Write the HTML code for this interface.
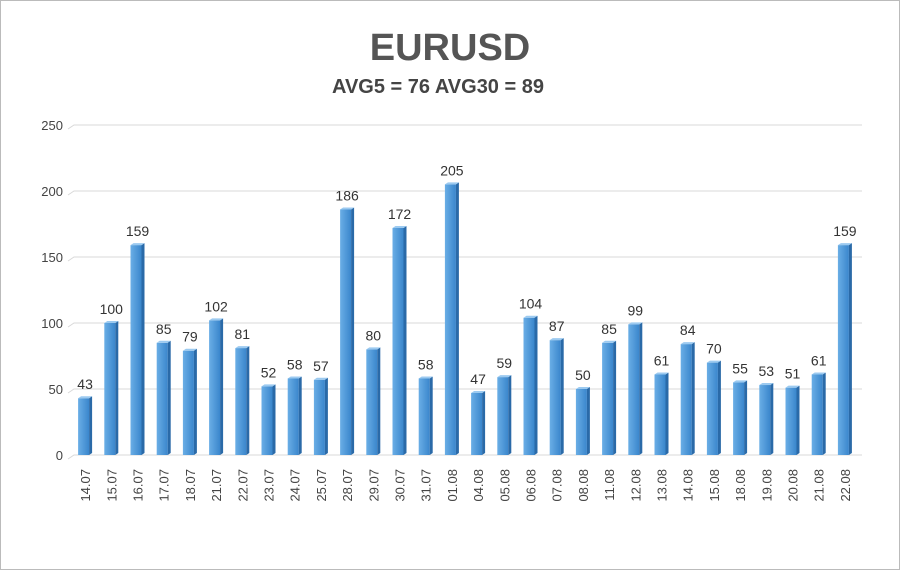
<!DOCTYPE html>
<html><head><meta charset="utf-8"><style>
body{margin:0;background:#fff;}
svg{display:block;font-family:"Liberation Sans",sans-serif;}
</style></head><body>
<svg id="c" width="900" height="570">
<defs><linearGradient id="g" x1="0" x2="1"><stop offset="0" stop-color="#6aaee6"/><stop offset="1" stop-color="#3a86cc"/></linearGradient></defs>
<rect x="0.5" y="0.5" width="899" height="569" fill="#fff" stroke="#bbb"/>
<text x="450" y="60" text-anchor="middle" font-size="38" font-weight="bold" fill="#555">EURUSD</text>
<text x="438" y="93" text-anchor="middle" font-size="20" font-weight="bold" fill="#444">AVG5 = 76 AVG30 = 89</text>
<g id="grid"></g><g id="bars"></g><g id="labels"></g>
</svg>
<script>
const categories=["14.07","15.07","16.07","17.07","18.07","21.07","22.07","23.07","24.07","25.07","28.07","29.07","30.07","31.07","01.08","04.08","05.08","06.08","07.08","08.08","11.08","12.08","13.08","14.08","15.08","18.08","19.08","20.08","21.08","22.08"];
const values=[43,100,159,85,79,102,81,52,58,57,186,80,172,58,205,47,59,104,87,50,85,99,61,84,70,55,53,51,61,159];
const ticks=[0,50,100,150,200,250];
const NS="http://www.w3.org/2000/svg";
const x0=72,step=26.2,yBase=455,yScale=330/250;
const y=v=>yBase-v*yScale;
const xc=i=>x0+step*(i+0.5);
function mk(t,a,p){const e=document.createElementNS(NS,t);for(const k in a)e.setAttribute(k,a[k]);p.appendChild(e);return e;}
const grid=document.getElementById('grid'),bars=document.getElementById('bars'),labels=document.getElementById('labels');
ticks.forEach(t=>{
 const l=mk('polyline',{points:`68,${y(t)+4} 74,${y(t)} 862,${y(t)}`,fill:'none',stroke:'#d9d9d9','stroke-width':1},grid);
 
 
 const tx=mk('text',{x:63,y:y(t)+5,'text-anchor':'end','font-size':13,fill:'#444'},grid);
 tx.textContent=t;
 
 
});
values.forEach((v,i)=>{
 const cx=xc(i),w=11;
 const g=mk('g',{},bars);
 
 
 mk('rect',{x:cx-7,y:y(v),width:w,height:v*yScale,fill:'url(#g)'},g);
 mk('polygon',{points:`${cx+4},${y(v)} ${cx+7},${y(v)-2} ${cx+7},${yBase-2} ${cx+4},${yBase}`,fill:'#2a6aa8'},g);
 mk('polygon',{points:`${cx-7},${y(v)} ${cx-4},${y(v)-2} ${cx+7},${y(v)-2} ${cx+4},${y(v)}`,fill:'#9ccaf0'},g);
 const t=mk('text',{x:cx,y:y(v)-9,'text-anchor':'middle','font-size':14,fill:'#333'},labels);
 t.textContent=v;
 
 
 const c=mk('text',{x:0,y:0,'text-anchor':'end','font-size':13,fill:'#444',transform:`translate(${cx+5},469) rotate(-90)`},labels);
 c.textContent=categories[i];
 
 
});
</script>
</body></html>
